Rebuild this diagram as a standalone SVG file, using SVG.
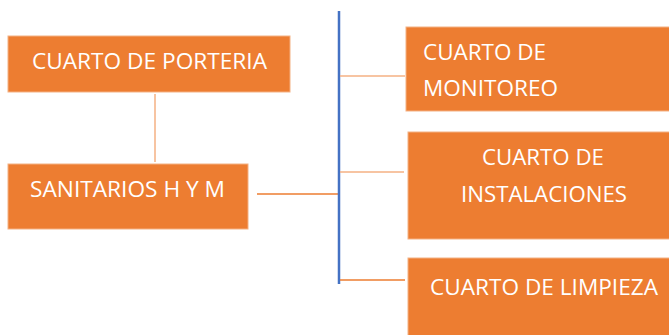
<svg xmlns="http://www.w3.org/2000/svg" width="669" height="335" viewBox="0 0 669 335">
<style>
.box{fill:#ed7d31;stroke:#f4b183;stroke-width:1}
.t{font-family:"Open Sans","Liberation Sans",sans-serif;font-size:21.5px;fill:#ffffff}
.lo{stroke:#f4b183;stroke-width:1.5;fill:none}
.o{stroke:#ed7d31;stroke-width:1.5;fill:none}
.b{stroke:#4472c4;stroke-width:2.5;fill:none}
</style>
<g id="connectors">
<line class="lo" x1="155" y1="94" x2="155" y2="162"/>
<line class="o" x1="257" y1="194" x2="338" y2="194"/>
<line class="b" x1="339" y1="11" x2="339" y2="284"/>
<line class="lo" x1="340" y1="76" x2="405" y2="76"/>
<line class="lo" x1="340" y1="172" x2="404" y2="172"/>
<line class="o" x1="340" y1="280" x2="405" y2="280"/>
</g>
<g id="porteria">
<rect class="box" x="8" y="36" width="282" height="56"/>
<text class="t" x="32" y="69" textLength="235" lengthAdjust="spacingAndGlyphs">CUARTO DE PORTERIA</text>
</g>
<g id="sanitarios">
<rect class="box" x="8" y="164" width="240" height="65"/>
<text class="t" x="30" y="197" textLength="195" lengthAdjust="spacingAndGlyphs">SANITARIOS H Y M</text>
</g>
<g id="monitoreo">
<rect class="box" x="406" y="27" width="264" height="84"/>
<text class="t" x="423" y="60" textLength="123" lengthAdjust="spacingAndGlyphs">CUARTO DE</text>
<text class="t" x="423" y="96" textLength="135" lengthAdjust="spacingAndGlyphs">MONITOREO</text>
</g>
<g id="instalaciones">
<rect class="box" x="408" y="132" width="262" height="107"/>
<text class="t" x="482" y="165" textLength="122" lengthAdjust="spacingAndGlyphs">CUARTO DE</text>
<text class="t" x="461" y="202" textLength="166" lengthAdjust="spacingAndGlyphs">INSTALACIONES</text>
</g>
<g id="limpieza">
<rect class="box" x="408" y="258" width="262" height="78"/>
<text class="t" x="430" y="295" textLength="228" lengthAdjust="spacingAndGlyphs">CUARTO DE LIMPIEZA</text>
</g>
</svg>
